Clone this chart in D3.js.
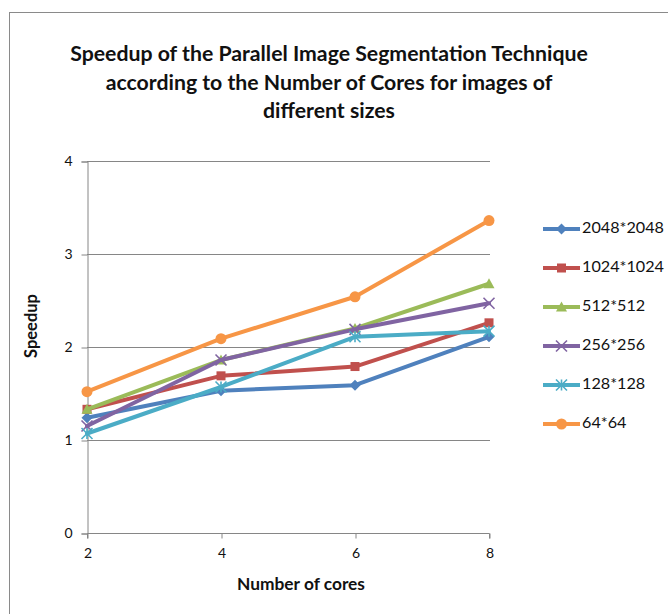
<!DOCTYPE html>
<html><head><meta charset="utf-8">
<script src="https://cdn.jsdelivr.net/npm/d3@7"></script>
<style>
html,body{margin:0;padding:0;background:#fff;}
svg{display:block;font-family:Lato,"Open Sans",sans-serif;}
</style></head>
<body>
<svg id="c" width="668" height="614"></svg>
<script>
const cores = ["2","4","6","8"];
const seriesNames = ["2048*2048","1024*1024","512*512","256*256","128*128","64*64"];
const s2048 = [1.24,1.53,1.59,2.11];
const s1024 = [1.33,1.69,1.79,2.26];
const s512  = [1.33,1.86,2.20,2.68];
const s256  = [1.15,1.86,2.19,2.47];
const s128  = [1.07,1.57,2.11,2.17];
const s64   = [1.52,2.09,2.54,3.36];
const yTicks = [0,1,2,3,4];
const titleLines = ["Speedup of the Parallel Image Segmentation Technique","according to the Number of Cores for images of","different sizes"];

const colors = ["#4F81BD","#C0504D","#9BBB59","#8064A2","#4BACC6","#F79646"];
const markers = ["diamond","square","triangle","x","asterisk","circle"];
const values = [s2048,s1024,s512,s256,s128,s64];

const svg = d3.select("#c");
svg.append("rect").attr("x",9.5).attr("y",12.5).attr("width",700).attr("height",700)
  .attr("fill","#fff").attr("stroke","#8a8a8a").attr("stroke-width",1);

const x = d3.scalePoint().domain(cores).range([87,489]);
const y = d3.scaleLinear().domain([0,4]).range([533,161]);

function fitText(sel, target){
  const w = sel.node().getComputedTextLength();
  const f = +sel.attr("font-size");
  sel.attr("font-size", f*target/w);
  return f*target/w;
}

// title
const tg = svg.append("g");
const tY = [56,85,113];
titleLines.forEach((t,i)=>{
  tg.append("text").attr("x",329).attr("y",tY[i]).attr("text-anchor","middle")
    .attr("dominant-baseline","middle").attr("font-weight","bold").attr("font-size",17)
    .attr("fill","#111").text(t);
});
const fs = fitText(tg.select("text"), 518);
tg.selectAll("text").attr("font-size",fs);

// gridlines
svg.append("g").selectAll("line").data(yTicks.filter(d=>d>0)).join("line")
  .attr("x1",87).attr("x2",490).attr("y1",d=>Math.round(y(d))+0.5).attr("y2",d=>Math.round(y(d))+0.5)
  .attr("stroke","#868686").attr("stroke-width",1);

// y axis
const ya = svg.append("g").attr("transform","translate(87.5,0.5)")
  .call(d3.axisLeft(y).tickValues(yTicks).tickSize(6).tickPadding(9).tickFormat(d3.format("d")));
ya.select(".domain").attr("stroke","#868686");
ya.selectAll(".tick line").attr("stroke","#868686");
ya.selectAll("text").attr("font-size",14).attr("fill","#111").attr("font-family","Lato,sans-serif");

// x axis
const xa = svg.append("g").attr("transform","translate(0.5,533.5)")
  .call(d3.axisBottom(x).tickSize(5).tickPadding(10));
xa.select(".domain").attr("stroke","#868686").attr("d","M87,5V0H489V5");
xa.selectAll(".tick line").attr("stroke","#868686");
xa.selectAll("text").attr("font-size",14).attr("fill","#111").attr("font-family","Lato,sans-serif");

// axis titles
const xt = svg.append("text").attr("x",301).attr("y",586).attr("text-anchor","middle").attr("dominant-baseline","middle")
  .attr("font-weight","bold").attr("font-size",14).attr("fill","#111").text("Number of cores");
fitText(xt, 128);
const yt = svg.append("text").attr("transform","translate(33,326) rotate(-90)").attr("text-anchor","middle")
  .attr("dominant-baseline","middle").attr("font-weight","bold").attr("font-size",14).attr("fill","#111").text("Speedup");
fitText(yt, 64);

function drawMarker(g, type, cx, cy, color){
  const s = 5.5;
  if(type==="diamond"){
    g.append("path").attr("d",`M${cx},${cy-s}L${cx+s},${cy}L${cx},${cy+s}L${cx-s},${cy}Z`).attr("fill",color);
  } else if(type==="square"){
    g.append("rect").attr("x",cx-4.5).attr("y",cy-4.5).attr("width",9).attr("height",9).attr("fill",color);
  } else if(type==="triangle"){
    g.append("path").attr("d",`M${cx},${cy-s}L${cx+s},${cy+s*0.8}L${cx-s},${cy+s*0.8}Z`).attr("fill",color);
  } else if(type==="x"){
    g.append("path").attr("d",`M${cx-s},${cy-s}L${cx+s},${cy+s}M${cx+s},${cy-s}L${cx-s},${cy+s}`)
      .attr("stroke",color).attr("stroke-width",1.6).attr("fill","none");
  } else if(type==="asterisk"){
    g.append("path").attr("d",`M${cx-s},${cy-s}L${cx+s},${cy+s}M${cx+s},${cy-s}L${cx-s},${cy+s}M${cx},${cy-s}L${cx},${cy+s}`)
      .attr("stroke",color).attr("stroke-width",1.6).attr("fill","none");
  } else if(type==="circle"){
    g.append("circle").attr("cx",cx).attr("cy",cy).attr("r",5.5).attr("fill",color);
  }
}

const line = d3.line().x((d,i)=>x(cores[i])).y(d=>y(d));
values.forEach((vals,k)=>{
  const g = svg.append("g");
  g.append("path").datum(vals).attr("d",line).attr("fill","none").attr("stroke",colors[k])
    .attr("stroke-width",4).attr("stroke-linejoin","round").attr("stroke-linecap","round");
  vals.forEach((v,i)=>drawMarker(g, markers[k], x(cores[i]), y(v), colors[k]));
});

// legend
const lg = svg.append("g");
let legFs = null;
seriesNames.forEach((n,k)=>{
  const ly = 229 + 39*k;
  lg.append("line").attr("x1",543).attr("x2",580).attr("y1",ly).attr("y2",ly)
    .attr("stroke",colors[k]).attr("stroke-width",4);
  drawMarker(lg, markers[k], 561.5, ly, colors[k]);
  const t = lg.append("text").attr("x",582).attr("y",ly).attr("dominant-baseline","middle")
    .attr("font-size",14).attr("fill","#111").text(n);
  if(k===0) legFs = fitText(t, 82);
  else t.attr("font-size", legFs);
});
</script>
</body></html>
